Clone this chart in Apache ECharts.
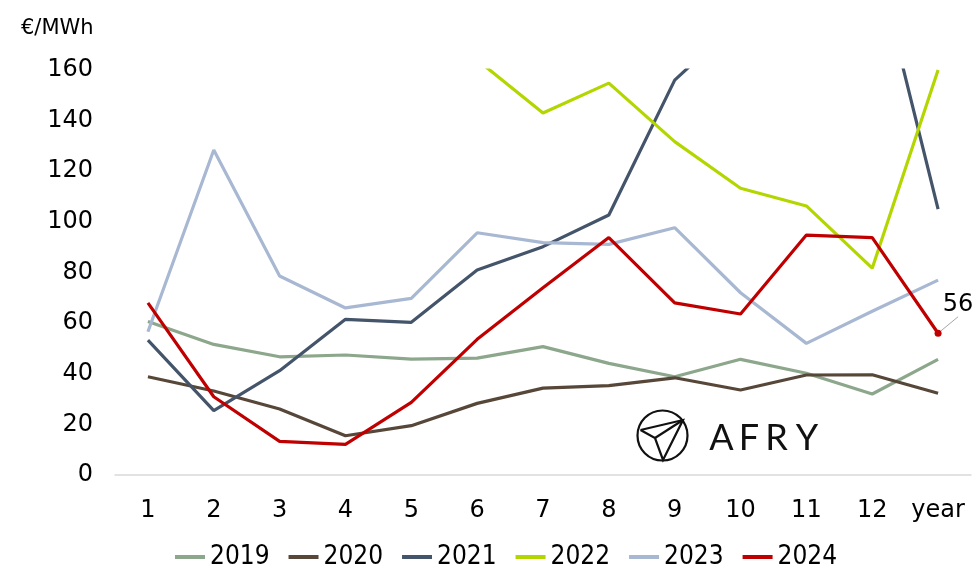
<!DOCTYPE html>
<html>
<head>
<meta charset="utf-8">
<script src="https://cdn.jsdelivr.net/npm/echarts@6/dist/echarts.min.js"></script>
<style>
  html, body { margin: 0; padding: 0; background: #fff; }
  #chart { width: 979px; height: 566px; }
</style>
</head>
<body>
<div id="chart"></div>
<script>
// Monthly average prices (€/MWh) per year, plus the annual average
const months = ['1', '2', '3', '4', '5', '6', '7', '8', '9', '10', '11', '12', 'year'];
const yTicks = { min: 0, max: 160, step: 20 };

const v2019 = [60.6, 51.6, 46.7, 47.4, 45.8, 46.2, 50.7, 44.1, 38.8, 45.7, 40.2, 32.0, 45.7];
const v2020 = [38.8, 33.2, 26.1, 15.5, 19.5, 28.3, 34.3, 35.3, 38.4, 33.6, 39.5, 39.6, 32.3];
const v2021 = [53.3, 25.4, 41.2, 61.5, 60.3, 81.0, 90.2, 102.7, 156.0, 180, 190, 210, 105];
const v2022 = [170, 165, 250, 220, 220, 164, 143, 154.8, 131.7, 113.3, 106.3, 81.7, 160];
const v2023 = [56.6, 128.4, 78.6, 66.0, 69.8, 95.7, 91.8, 91.1, 97.7, 72, 52, 64.7, 77];
const v2024 = [68, 30.9, 13.3, 12.1, 28.7, 53.6, 74, 93.8, 68, 63.6, 94.8, 93.8, 56];

const seriesDefs = [
  { name: '2019', data: v2019, color: '#8CA78B' },
  { name: '2020', data: v2020, color: '#574739' },
  { name: '2021', data: v2021, color: '#44546A' },
  { name: '2022', data: v2022, color: '#B4D600' },
  { name: '2023', data: v2023, color: '#A8B8D2' },
  { name: '2024', data: v2024, color: '#C00000' }
];

const axisFont = 'DejaVu Sans';
const chart = echarts.init(document.getElementById('chart'), null, { renderer: 'canvas' });

function buildSeries(def) {
  const isLatest = def.name === '2024';
  const data = def.data.map((v, i) => {
    if (isLatest && i === def.data.length - 1) {
      // annual average of the latest year gets a dot and a value label
      return {
        value: v,
        symbol: 'circle',
        symbolSize: 7,
        label: {
          show: true,
          position: 'top',
          formatter: (p) => String(Math.round(p.value)),
          fontFamily: axisFont,
          fontSize: 24,
          color: '#000'
        },
        labelLine: { show: true, lineStyle: { color: '#A6A6A6', width: 1 } }
      };
    }
    return v;
  });
  return {
    name: def.name,
    type: 'line',
    data: data,
    symbol: 'none',
    showSymbol: isLatest,
    clip: true,
    lineStyle: { color: def.color, width: 3.2 },
    itemStyle: { color: def.color },
    emphasis: { disabled: true },
    animation: false,
    labelLayout: isLatest ? { dx: 20, dy: -8 } : undefined,
    z: isLatest ? 5 : 2
  };
}

// AFRY mark: circle with paper plane
const ink = '#111';
const logo = [
  {
    type: 'circle',
    shape: { cx: 662.5, cy: 435.5, r: 25 },
    style: { fill: 'none', stroke: ink, lineWidth: 2.2 }
  },
  {
    type: 'polyline',
    shape: { points: [[640.5, 430], [683, 420], [663, 460], [655, 438], [640.5, 430]] },
    style: { fill: 'none', stroke: ink, lineWidth: 2.2 }
  },
  {
    type: 'line',
    shape: { x1: 655, y1: 438, x2: 683, y2: 420 },
    style: { stroke: ink, lineWidth: 2.2 }
  }
];
const letters = [['A', 721.5], ['F', 749], ['R', 776.5], ['Y', 807]];
letters.forEach(([ch, x]) => {
  logo.push({
    type: 'text',
    style: {
      text: ch, x: x, y: 438, align: 'center', verticalAlign: 'middle',
      font: '36px Lato', fill: ink
    }
  });
});

chart.setOption({
  backgroundColor: '#ffffff',
  animation: false,
  title: {
    text: '€/MWh',
    left: 16,
    top: 13,
    textStyle: { fontFamily: axisFont, fontSize: 21, fontWeight: 'normal', color: '#000' }
  },
  grid: { left: 115, right: 8, top: 70, bottom: 91, containLabel: false },
  legend: {
    top: 539,
    left: 170,
    icon: 'rect',
    itemWidth: 30,
    itemHeight: 4,
    itemGap: 19,
    textStyle: { fontFamily: 'DejaVu Sans Condensed', fontSize: 26, color: '#000' },
    data: seriesDefs.map(d => ({ name: d.name, itemStyle: { color: d.color } }))
  },
  xAxis: {
    type: 'category',
    data: months,
    boundaryGap: true,
    axisLine: { show: true, lineStyle: { color: '#D9D9D9', width: 1.5 } },
    axisTick: { show: false },
    axisLabel: { fontFamily: axisFont, fontSize: 24, color: '#000', margin: 24, interval: 0 },
    splitLine: { show: false }
  },
  yAxis: {
    type: 'value',
    min: yTicks.min,
    max: yTicks.max,
    interval: yTicks.step,
    axisLine: { show: false },
    axisTick: { show: false },
    axisLabel: { fontFamily: axisFont, fontSize: 24, color: '#000', margin: 22, lineHeight: 30, padding: [6, 0, 0, 0] },
    splitLine: { show: false }
  },
  series: seriesDefs.map(buildSeries),
  graphic: logo
});
</script>
</body>
</html>
